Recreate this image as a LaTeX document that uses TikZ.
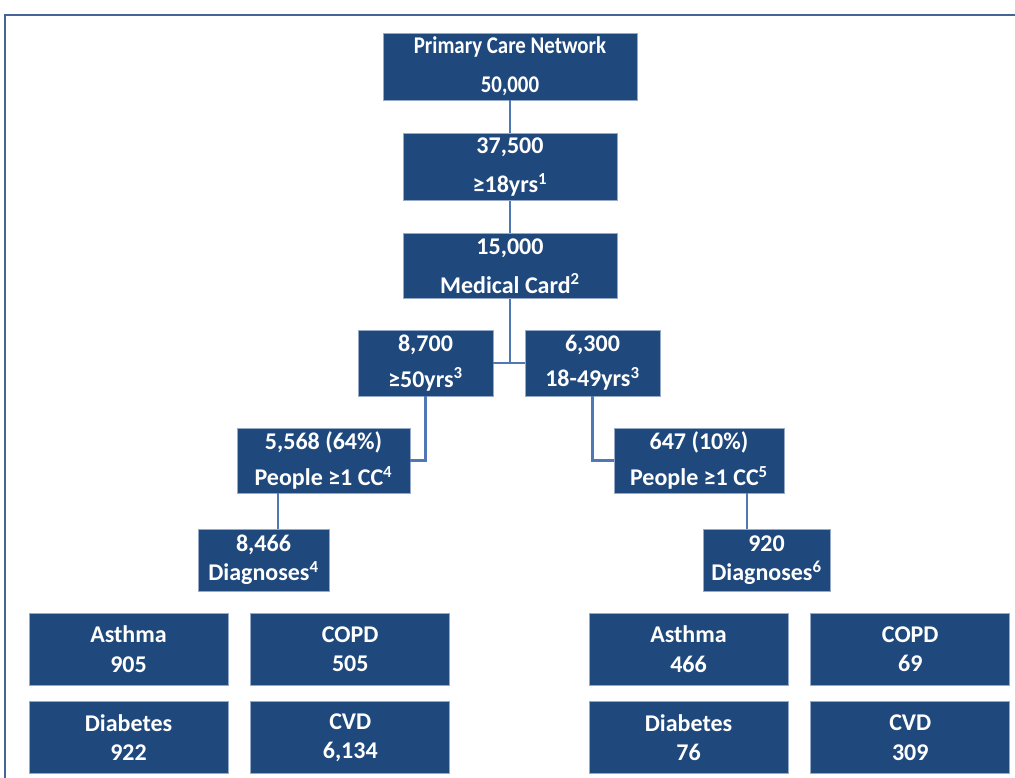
\documentclass[tikz,border=0pt]{standalone}
\usepackage{fontspec}
\setmainfont{Carlito}
\usetikzlibrary{positioning}
\definecolor{cajaazul}{RGB}{31,73,125}
\definecolor{bordeazul}{RGB}{150,170,200}
\definecolor{lineaazul}{RGB}{79,120,180}
\definecolor{marco}{RGB}{70,100,150}
\tikzset{
  caja/.style={draw=bordeazul, line width=0.6pt, fill=cajaazul, text=white,
    font=\bfseries\fontsize{18}{22}\selectfont, align=center, inner sep=0pt},
  arco/.style={draw=lineaazul, line width=1.8pt},
  arcofino/.style={draw=lineaazul, line width=1pt}
}

\begin{document}
\begin{tikzpicture}[x=0.75pt, y=-0.75pt]
    \useasboundingbox (0,0) rectangle (1015,778);
    \draw[marco, line width=1.2pt] (5,778) -- (5,15) -- (1015,15);

    % upper chain
    \node[caja, minimum width=190.5pt, minimum height=50.25pt] (pcn) at (510,66.5)
        {\scalebox{0.87}[1]{Primary Care Network}\\[7pt]\scalebox{0.87}[1]{50,000}};
    \node[caja, minimum width=160.5pt, minimum height=50.25pt, below=24.75pt of pcn] (adult)
        {37,500\\[7pt]≥18yrs\textsuperscript{1}};
    \node[caja, minimum width=160.5pt, minimum height=48.75pt, below=24pt of adult] (card)
        {15,000\\[7pt]Medical Card\textsuperscript{2}};

    % age split
    \node[caja, minimum width=101.25pt, minimum height=49.5pt] (old) at (425.5,363)
        {8,700\\[4.5pt]≥50yrs\textsuperscript{3}};
    \node[caja, minimum width=101.25pt, minimum height=49.5pt] (young) at (592.5,363)
        {6,300\\[4.5pt]18-49yrs\textsuperscript{3}};

    \node[caja, minimum width=129.75pt, minimum height=48.75pt] (ccold) at (323.5,460.5)
        {5,568 (64\%)\\[5pt]People ≥1 CC\textsuperscript{4}};
    \node[caja, minimum width=127.5pt, minimum height=48.75pt] (ccyoung) at (699,460.5)
        {647 (10\%)\\[5pt]People ≥1 CC\textsuperscript{5}};

    \node[caja, minimum width=98.25pt, minimum height=46.5pt] (dxold) at (263.5,560)
        {8,466\\Diagnoses\textsuperscript{4}};
    \node[caja, minimum width=95.25pt, minimum height=46.5pt] (dxyoung) at (766.5,560)
        {920\\Diagnoses\textsuperscript{6}};

    % conditions
    \node[caja, minimum width=149.25pt, minimum height=54pt] (asthma1) at (128.5,649) {Asthma\\905};
    \node[caja, minimum width=149.25pt, minimum height=54pt, right=16.5pt of asthma1] (copd1) {COPD\\505};
    \node[caja, minimum width=149.25pt, minimum height=54pt, below=12pt of asthma1] (diab1) {Diabetes\\922};
    \node[caja, minimum width=149.25pt, minimum height=54pt, right=16.5pt of diab1] (cvd1) {CVD\\6,134};

    \node[caja, minimum width=149.25pt, minimum height=54pt] (asthma2) at (688.5,649) {Asthma\\466};
    \node[caja, minimum width=149.25pt, minimum height=54pt, right=16.5pt of asthma2] (copd2) {COPD\\69};
    \node[caja, minimum width=149.25pt, minimum height=54pt, below=12pt of asthma2] (diab2) {Diabetes\\76};
    \node[caja, minimum width=149.25pt, minimum height=54pt, right=16.5pt of diab2] (cvd2) {CVD\\309};

    \coordinate (linkL) at (278,0);
    \coordinate (linkR) at (747,0);

    \draw[arco] (pcn) to (adult);
    \draw[arco] (adult) to (card);
    \draw[arco] (old) to (young);
    \draw[arco] (card.south) to (card.south |- old);
    \draw[arco] (old.south) |- (ccold.east);
    \draw[arco] (young.south) |- (ccyoung.west);
    \draw[arcofino] (ccold.south -| linkL) to (dxold.north -| linkL);
    \draw[arcofino] (ccyoung.south -| linkR) to (dxyoung.north -| linkR);
\end{tikzpicture}
\end{document}
